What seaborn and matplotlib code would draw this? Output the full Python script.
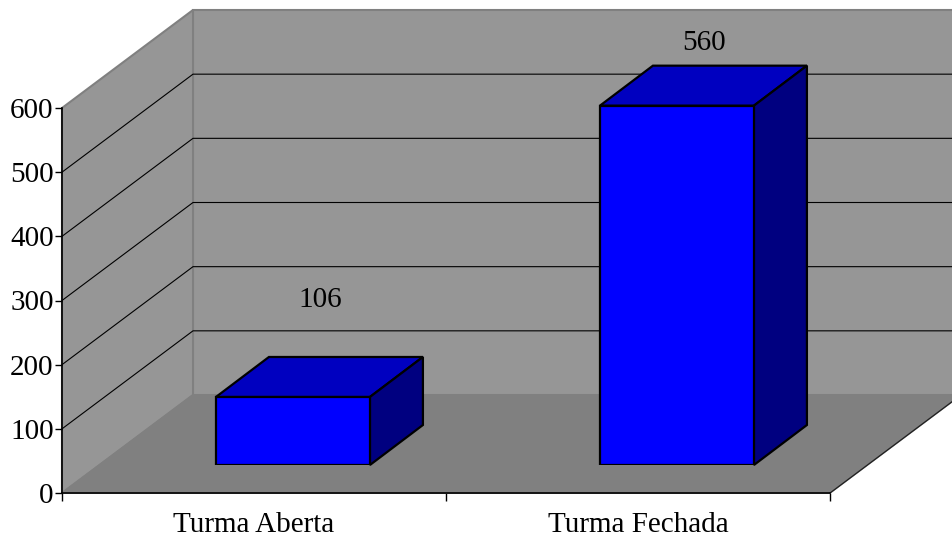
import matplotlib
matplotlib.use("Agg")
import matplotlib.pyplot as plt
from matplotlib.patches import Polygon
import seaborn as sns
import pandas as pd

# Data
categories = ["Turma Aberta", "Turma Fechada"]
values = [106, 560]
y_ticks = [0, 100, 200, 300, 400, 500, 600]

sns.set_style("white")
plt.rcParams["font.family"] = ["Liberation Serif", "DejaVu Serif"]
plt.rcParams["text.color"] = "black"
plt.rcParams["xtick.color"] = "black"
plt.rcParams["ytick.color"] = "black"
plt.rcParams["xtick.labelcolor"] = "black"
plt.rcParams["ytick.labelcolor"] = "black"

W, H = 952, 541
fig = plt.figure(figsize=(W / 100, H / 100), dpi=100)
fig.patch.set_facecolor("white")

# front plane of the 3-D box, in pixels
left_px, right_px, bottom_px, top_px = 62, 830, 493, 108
ymax = 600
px_per_unit_y = (bottom_px - top_px) / ymax
px_per_cat = (right_px - left_px) / 2

# depth of the whole box (pixels) and in data units
depth_px = (131, 98)
Dx = depth_px[0] / px_per_cat
Dy = depth_px[1] / px_per_unit_y

ax = fig.add_axes([left_px / W, (H - bottom_px) / H,
                   (right_px - left_px) / W, (bottom_px - top_px) / H])
ax.set_xlim(-0.5, 1.5)
ax.set_ylim(0, ymax)
ax.set_facecolor("none")

wall = "#969696"
floor = "#808080"
edge = "#808080"
x0, x1 = -0.5, 1.5

# walls and floor
ax.add_patch(Polygon([(x0 + Dx, Dy), (x1 + Dx + 1, Dy), (x1 + Dx + 1, ymax + Dy), (x0 + Dx, ymax + Dy)],
                     closed=True, facecolor=wall, edgecolor=edge, lw=1.5, clip_on=False, zorder=0))
ax.add_patch(Polygon([(x0, 0), (x0, ymax), (x0 + Dx, ymax + Dy), (x0 + Dx, Dy)],
                     closed=True, facecolor=wall, edgecolor=edge, lw=1.5, clip_on=False, zorder=0.5))
ax.add_patch(Polygon([(x0, 0), (x1, 0), (x1 + Dx, Dy), (x0 + Dx, Dy)],
                     closed=True, facecolor=floor, edgecolor=edge, lw=1.2, clip_on=False, zorder=0.6))
ax.plot([x1, x1 + Dx], [0, Dy], color="#202020", lw=0.9, clip_on=False, zorder=0.7)

# gridlines on both walls
for v in y_ticks[1:-1]:
    ax.plot([x0, x0 + Dx, x1 + Dx + 1], [v, v + Dy, v + Dy],
            color="black", lw=0.8, clip_on=False, zorder=0.8)

# axes lines and ticks
for s in ["top", "right"]:
    ax.spines[s].set_visible(False)
for s in ["left", "bottom"]:
    ax.spines[s].set_color("black")
    ax.spines[s].set_linewidth(1.2)
    ax.spines[s].set_zorder(5)
ax.set_yticks(y_ticks)
ax.set_yticklabels([str(t) for t in y_ticks], fontsize=21, color="black")
ax.set_xticks([-0.5, 0.5, 1.5])
ax.set_xticklabels(["", "", ""])
ax.set_xticks([0, 1], minor=True)
ax.set_xticklabels(categories, minor=True, fontsize=21, color="black")
ax.tick_params(axis="y", direction="out", length=5, width=1, pad=1, left=True, color="black")
ax.tick_params(axis="x", which="major", direction="out", length=6, width=1, bottom=True, color="black")
ax.tick_params(axis="x", which="minor", length=0, pad=14)
ax.grid(False)

# bars sit at part of the depth
f_front = 28 / 98
shift_x, shift_y = depth_px[0] * f_front + 1.5, depth_px[1] * f_front
ax2 = fig.add_axes([(left_px + shift_x) / W, (H - bottom_px + shift_y) / H,
                    (right_px - left_px) / W, (bottom_px - top_px) / H])
df = pd.DataFrame({"turma": categories, "n": values})
sns.barplot(data=df, x="turma", y="n", ax=ax2, width=0.401, color="#0000FF",
            saturation=1, edgecolor="black", linewidth=1.6, zorder=3)
ax2.set_xlim(-0.5, 1.5)
ax2.set_ylim(0, ymax)
ax2.axis("off")
ax2.patch.set_visible(False)

# bar depth
ddx = 53 / px_per_cat
ddy = 40 / px_per_unit_y
label_offsets = [151, 97]
for patch, v, off in zip(ax2.patches, values, label_offsets):
    bx0 = patch.get_x()
    bx1 = bx0 + patch.get_width()
    top = patch.get_height()
    ax2.add_patch(Polygon([(bx0, top), (bx1, top), (bx1 + ddx, top + ddy), (bx0 + ddx, top + ddy)],
                          closed=True, facecolor="#0000C0", edgecolor="black", lw=1.6,
                          clip_on=False, zorder=2))
    ax2.add_patch(Polygon([(bx1, 0), (bx1, top), (bx1 + ddx, top + ddy), (bx1 + ddx, ddy)],
                          closed=True, facecolor="#000080", edgecolor="black", lw=1.6,
                          clip_on=False, zorder=2))
    ax2.text(bx0 + patch.get_width() / 2 + ddx * 0.52, top + off, f"{v}",
             ha="center", va="center", fontsize=21, color="black", clip_on=False)

fig.savefig("out.png", dpi=100)
